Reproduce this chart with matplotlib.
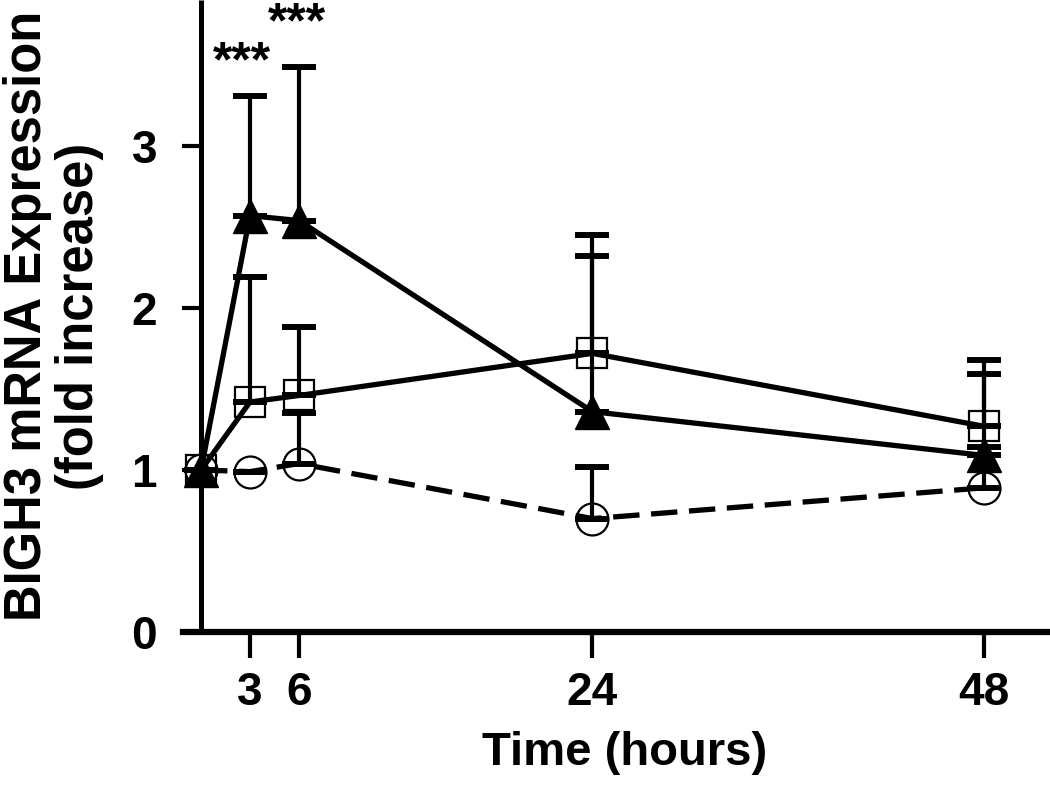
import matplotlib
matplotlib.use("Agg")
import matplotlib.pyplot as plt
import matplotlib.font_manager as fm
import numpy as np

# ---- data ----
hours = [0, 3, 6, 24, 48]
tri_mean = [1.00, 2.57, 2.54, 1.36, 1.09]
tri_upper = [1.00, 3.31, 3.49, 2.45, 1.59]
sq_mean = [1.00, 1.42, 1.46, 1.72, 1.27]
sq_upper = [1.00, 2.19, 1.88, 2.32, 1.68]
circ_mean = [1.00, 0.99, 1.04, 0.70, 0.89]
circ_upper = [1.00, 0.99, 1.35, 1.02, 1.14]
xticks = [3, 6, 24, 48]
yticks = [0, 1, 2, 3]
star_x = [2.5, 5.9]
star_y = [3.43, 3.67]
star_text = ["***", "***"]

names = {f.name for f in fm.fontManager.ttflist}
narrow = "Liberation Sans Narrow" in names
tick_family = ["Liberation Sans Narrow", "DejaVu Sans"] if narrow else ["Liberation Sans", "DejaVu Sans"]
tick_size = 37 if narrow else 33
main_family = ["Liberation Sans", "DejaVu Sans"]

fig = plt.figure(figsize=(10.5, 7.85), dpi=100)
ax = fig.add_axes([0.1744, 0.1949, 0.8248, 0.8048])
ax.set_xlim(-1.1, 52)
ax.set_ylim(0, 3.9)

def draw_err(mean, upper):
    m = np.array(mean)
    u = np.array(upper)
    ax.errorbar(hours, m, yerr=[np.zeros_like(m), u - m], fmt="none",
                ecolor="black", elinewidth=3.0, capsize=12.5, capthick=4.3,
                zorder=2, clip_on=False)

draw_err(circ_mean, circ_upper)
draw_err(sq_mean, sq_upper)
draw_err(tri_mean, tri_upper)

ax.plot(hours, circ_mean, color="black", lw=3.8, linestyle=(0, (5, 2.2)),
        marker="o", markersize=23, markerfacecolor="none",
        markeredgecolor="black", markeredgewidth=1.6, zorder=3, clip_on=False)
ax.plot(hours, sq_mean, color="black", lw=3.8, linestyle="-",
        marker="s", markersize=22, markerfacecolor="none",
        markeredgecolor="black", markeredgewidth=1.6, zorder=4, clip_on=False)
ax.plot(hours, tri_mean, color="black", lw=3.8, linestyle="-",
        marker="^", markersize=24, markerfacecolor="black",
        markeredgecolor="black", markeredgewidth=1.0, zorder=5, clip_on=False)

for sx, sy, st in zip(star_x, star_y, star_text):
    ax.text(sx, sy, st, ha="center", va="baseline", fontsize=36,
            fontweight="bold", family=main_family)

# spines
for s in ["top", "right"]:
    ax.spines[s].set_visible(False)
ax.spines["left"].set_position(("data", 0))
ax.spines["left"].set_linewidth(3.6)
ax.spines["bottom"].set_linewidth(4.5)
ax.spines["left"].set_capstyle("butt")

ax.set_xticks(xticks)
ax.set_xticklabels([str(t) for t in xticks])
ax.set_yticks(yticks)
ax.set_yticklabels([str(t) for t in yticks])
ax.tick_params(axis="y", length=13.7, width=3.0, pad=18, direction="out")
ax.tick_params(axis="x", length=19, width=3.0, pad=9, direction="out")
for lab in ax.get_xticklabels() + ax.get_yticklabels():
    lab.set_family(tick_family)
    lab.set_fontsize(tick_size)
    lab.set_fontweight("bold")

fig.text(0.0505, 0.597, "BIGH3 mRNA Expression\n(fold increase)", rotation=90,
         ha="center", va="center", multialignment="center", fontsize=36.5,
         fontweight="bold", family=main_family, linespacing=1.08)
fig.text(0.595, 0.0255, "Time (hours)", ha="center", va="baseline",
         fontsize=34, fontweight="bold", family=main_family)

fig.savefig("out.png", dpi=100)
